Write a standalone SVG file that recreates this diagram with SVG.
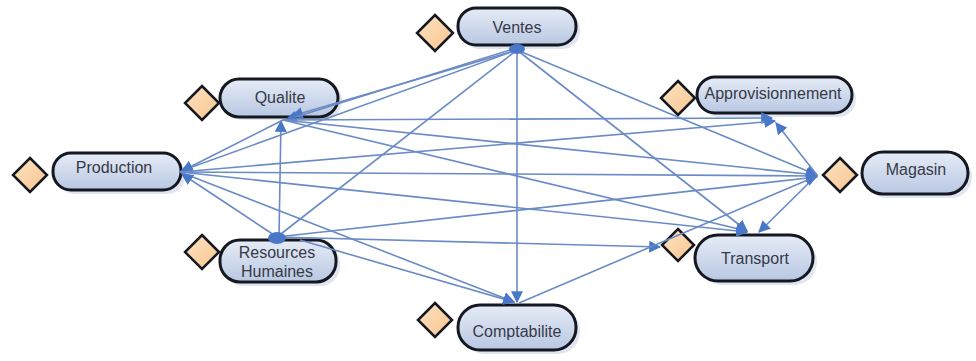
<svg xmlns="http://www.w3.org/2000/svg" width="976" height="361" viewBox="0 0 976 361">
<defs>
<linearGradient id="ng" x1="0" y1="0" x2="0" y2="1">
<stop offset="0" stop-color="#e6ecf7"/>
<stop offset="1" stop-color="#b8c7e2"/>
</linearGradient>
<linearGradient id="dg" x1="0" y1="0" x2="1" y2="1">
<stop offset="0" stop-color="#fde3c2"/>
<stop offset="1" stop-color="#f8c58f"/>
</linearGradient>
<marker id="ar2" viewBox="0 0 10 10" refX="9" refY="5" markerWidth="12" markerHeight="12" markerUnits="userSpaceOnUse" orient="auto">
<path d="M0,0 L10,5 L0,10 z" fill="#4a78c9"/>
</marker>
</defs>
<style>
.node rect{fill:url(#ng);stroke:#151820;stroke-width:3}
.node rect.sh{fill:#dfe6f2;stroke:none}
.dia{fill:url(#dg);stroke:#151820;stroke-width:2.5}
.lbl{font-family:"Liberation Sans",Arial,sans-serif;font-size:16px;fill:#363a46;text-anchor:middle}
#connectors line{stroke:#6a8bc6;stroke-width:1.6;fill:none;marker-end:url(#ar2)}
#connectors line.n{marker-end:none}
</style>
<rect width="976" height="361" fill="#ffffff"/>

<g id="ventes" class="node">
<rect class="sh" x="462" y="12" width="118" height="37" rx="18"/>
<rect x="458" y="8" width="118" height="37" rx="18"/>
<polygon class="dia" points="435,15 453,33 435,51 417,33"/>
<text class="lbl" x="517" y="33">Ventes</text>
</g>

<g id="qualite" class="node">
<rect class="sh" x="224" y="82" width="118" height="38" rx="19"/>
<rect x="220" y="79" width="118" height="38" rx="19"/>
<polygon class="dia" points="202,86 219,103 202,120 185,103"/>
<text class="lbl" x="280" y="103">Qualite</text>
</g>

<g id="production" class="node">
<rect class="sh" x="57" y="157" width="128" height="37" rx="18"/>
<rect x="53" y="153" width="128" height="37" rx="18"/>
<polygon class="dia" points="30,158 47,175 30,192 13,175"/>
<text class="lbl" x="114" y="173">Production</text>
</g>

<g id="resources" class="node">
<rect class="sh" x="224" y="244" width="116" height="42" rx="20"/>
<rect x="220" y="240" width="116" height="42" rx="20"/>
<polygon class="dia" points="202,235 219,252 202,269 185,252"/>
<text class="lbl" x="277" y="258">Resources</text>
<text class="lbl" x="277" y="277">Humaines</text>
</g>

<g id="comptabilite" class="node">
<rect class="sh" x="462" y="309" width="118" height="45" rx="22"/>
<rect x="458" y="305" width="118" height="45" rx="22"/>
<polygon class="dia" points="435,303 452,320 435,337 418,320"/>
<text class="lbl" x="517" y="337">Comptabilite</text>
</g>

<g id="approvisionnement" class="node">
<rect class="sh" x="701" y="81" width="155" height="36" rx="18"/>
<rect x="697" y="77" width="155" height="36" rx="18"/>
<polygon class="dia" points="678,81 695,98 678,115 661,98"/>
<text class="lbl" x="773" y="99">Approvisionnement</text>
</g>

<g id="magasin" class="node">
<rect class="sh" x="866" y="156" width="106" height="42" rx="21"/>
<rect x="862" y="152" width="106" height="42" rx="21"/>
<polygon class="dia" points="840,158 857,175 840,192 823,175"/>
<text class="lbl" x="916" y="175">Magasin</text>
</g>

<g id="transport" class="node">
<rect class="sh" x="699" y="239" width="118" height="46" rx="23"/>
<rect x="695" y="235" width="118" height="46" rx="23"/>
<polygon class="dia" points="678,229 694,245 678,261 662,245"/>
<text class="lbl" x="755" y="264">Transport</text>
</g>

<g id="connectors">
<line x1="517" y1="50" x2="292" y2="116"/>
<line x1="510" y1="50" x2="286" y2="120"/>
<line class="n" x1="517" y1="50" x2="277" y2="237"/>
<line x1="517" y1="50" x2="517" y2="302"/>
<line x1="517" y1="50" x2="747" y2="231"/>
<line x1="517" y1="50" x2="817" y2="175"/>
<line x1="517" y1="50" x2="181" y2="171"/>
<line x1="283" y1="120" x2="772" y2="118"/>
<line x1="283" y1="120" x2="817" y2="175"/>
<line x1="283" y1="120" x2="747" y2="231"/>
<line x1="279" y1="237" x2="281" y2="121"/>
<line x1="283" y1="120" x2="182" y2="171"/>
<line x1="180" y1="172" x2="775" y2="121"/>
<line x1="180" y1="172" x2="817" y2="176"/>
<line x1="180" y1="172" x2="747" y2="232"/>
<line x1="180" y1="172" x2="514" y2="302"/>
<line x1="277" y1="237" x2="182" y2="174"/>
<line x1="277" y1="237" x2="817" y2="177"/>
<line x1="277" y1="237" x2="660" y2="247"/>
<line x1="300" y1="240" x2="514" y2="302"/>
<line x1="817" y1="175" x2="776" y2="123"/>
<line x1="817" y1="175" x2="759" y2="232"/>
<line x1="519" y1="303" x2="817" y2="176"/>
<ellipse cx="517" cy="49" rx="8" ry="5" fill="#4a78c9"/>
<ellipse cx="277" cy="238" rx="9" ry="6" fill="#4a78c9"/>
</g>
</svg>
